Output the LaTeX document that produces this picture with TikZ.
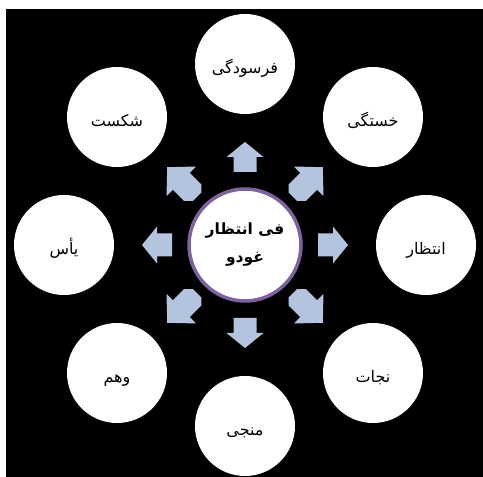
\documentclass[tikz,border=0pt]{standalone}
\usepackage{fontspec}
\newfontfamily\arabicfont[Script=Arabic]{DejaVu Sans}
\TeXXeTstate=1
\definecolor{arrowblue}{HTML}{B4C4DE}
\definecolor{ringpurple}{HTML}{7E62A0}
\begin{document}
\begin{tikzpicture}[x=1pt,y=1pt,
  outer/.style={circle, fill=white, minimum size=100pt, inner sep=0pt,
    text height=19pt, text depth=0pt,
    font=\arabicfont\fontsize{16}{18}\selectfont},
  hub/.style={circle, fill=white, draw=ringpurple, line width=3.5pt,
    minimum size=112pt, inner sep=0pt, align=center,
    font=\arabicfont\bfseries\fontsize{15.5}{28}\selectfont},
  arrowfill/.style={fill=arrowblue}
]
\useasboundingbox (0,0) rectangle (483,477);
\fill[white] (0,0) rectangle (483,477);
\fill[black] (6,0) rectangle (483,468);

% straight arrows
\foreach \a in {0,90,180,270}{
  \fill[arrowfill, shift={(245,232)}, rotate=\a]
    (73,-11.5) -- (88,-11.5) -- (88,-18.5) -- (103,0) -- (88,18.5) -- (88,11.5) -- (73,11.5) -- cycle;
}
% diagonal arrows (clipped to their boxes)
\foreach \a in {45,135,225,315}{
  \begin{scope}
    \clip ({245+88*cos(\a)-18.5},{232+88*sin(\a)-18})
      rectangle ({245+88*cos(\a)+18.5},{232+88*sin(\a)+18});
    \fill[arrowfill, shift={(245,232)}, rotate=\a]
      (68,-12) -- (90,-12) -- (90,-21) -- (110,0) -- (90,21) -- (90,12) -- (68,12) -- cycle;
  \end{scope}
}

\node[hub] (hub) at (245,232) {\beginR فی انتظار\endR\\\beginR غودو\endR};

\node[outer] (n1) at (245,413) {\beginR فرسودگی\endR};
\node[outer] (n2) at (373,360) {\beginR خستگی\endR};
\node[outer] (n3) at (426,232) {\beginR انتظار\endR};
\node[outer] (n4) at (373,104) {\beginR نجات\endR};
\node[outer] (n5) at (245,51) {\beginR منجی\endR};
\node[outer] (n6) at (117,104) {\beginR وهم\endR};
\node[outer] (n7) at (64,232) {\beginR یأس\endR};
\node[outer] (n8) at (117,360) {\beginR شکست\endR};
\end{tikzpicture}
\end{document}
